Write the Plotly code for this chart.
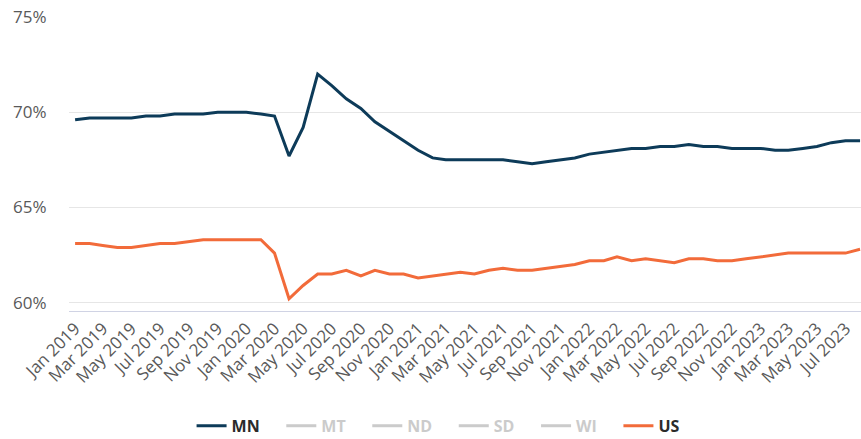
import pandas as pd
import plotly.graph_objs as go

months = pd.date_range('2019-01-01', '2023-08-01', freq='MS')

mn = [69.6, 69.7, 69.7, 69.7, 69.7, 69.8, 69.8, 69.9, 69.9, 69.9, 70.0, 70.0,
      70.0, 69.9, 69.8, 67.7, 69.2, 72.0, 71.4, 70.7, 70.2, 69.5, 69.0, 68.5,
      68.0, 67.6, 67.5, 67.5, 67.5, 67.5, 67.5, 67.4, 67.3, 67.4, 67.5, 67.6,
      67.8, 67.9, 68.0, 68.1, 68.1, 68.2, 68.2, 68.3, 68.2, 68.2, 68.1, 68.1,
      68.1, 68.0, 68.0, 68.1, 68.2, 68.4, 68.5, 68.5]

us = [63.1, 63.1, 63.0, 62.9, 62.9, 63.0, 63.1, 63.1, 63.2, 63.3, 63.3, 63.3,
      63.3, 63.3, 62.6, 60.2, 60.9, 61.5, 61.5, 61.7, 61.4, 61.7, 61.5, 61.5,
      61.3, 61.4, 61.5, 61.6, 61.5, 61.7, 61.8, 61.7, 61.7, 61.8, 61.9, 62.0,
      62.2, 62.2, 62.4, 62.2, 62.3, 62.2, 62.1, 62.3, 62.3, 62.2, 62.2, 62.3,
      62.4, 62.5, 62.6, 62.6, 62.6, 62.6, 62.6, 62.8]

hidden_states = ['MT', 'ND', 'SD', 'WI']

pad = '\u00a0' * 4  # a bit of extra room after each legend name

fig = go.Figure()
fig.add_trace(go.Scatter(x=months, y=mn, name='MN' + pad, mode='lines',
                         line=dict(color='#0d3b59', width=3)))
for st in hidden_states:
    fig.add_trace(go.Scatter(x=months, y=[None] * len(months), mode='lines',
                             name=f"<span style='color:#999999'>{st}</span>" + pad,
                             visible='legendonly',
                             line=dict(color='#999999', width=3)))
fig.add_trace(go.Scatter(x=months, y=us, name='US', mode='lines',
                         line=dict(color='#f26b3a', width=3)))

fig.update_layout(
    width=861, height=439,
    margin=dict(l=69, r=0, t=17, b=128),
    plot_bgcolor='white', paper_bgcolor='white',
    font=dict(family='Open Sans', color='#595959', size=14),
    showlegend=True,
    legend=dict(orientation='h', x=0.466, xanchor='center',
                yref='container', y=0.03, yanchor='middle',
                font=dict(size=16, color='#2b2b2b', weight=700), itemwidth=30),
)
fig.update_xaxes(type='date', range=['2018-12-19', '2023-08-03'], automargin=False,
                 dtick='M2', tick0='2019-01-01', tickformat='%b %Y', tickangle=-45,
                 showgrid=False, showline=True, linecolor='#d0d3e4', linewidth=1,
                 ticks='', tickfont=dict(size=17, color='#595959'))
fig.update_yaxes(range=[59.56, 75.0], tickvals=[60, 65, 70, 75], automargin=False,
                 ticktext=['60%', '65%', '70%', '75%'],
                 showgrid=True, gridcolor='#e6e6e6', zeroline=False,
                 ticks='outside', ticklen=18, tickcolor='white',
                 tickfont=dict(size=17, color='#595959'))

# page body has a default 8px margin, drop it so the figure fills the window
fig.write_html("out.html", config={'displayModeBar': False},
               post_script="document.body.style.margin='0px';")
